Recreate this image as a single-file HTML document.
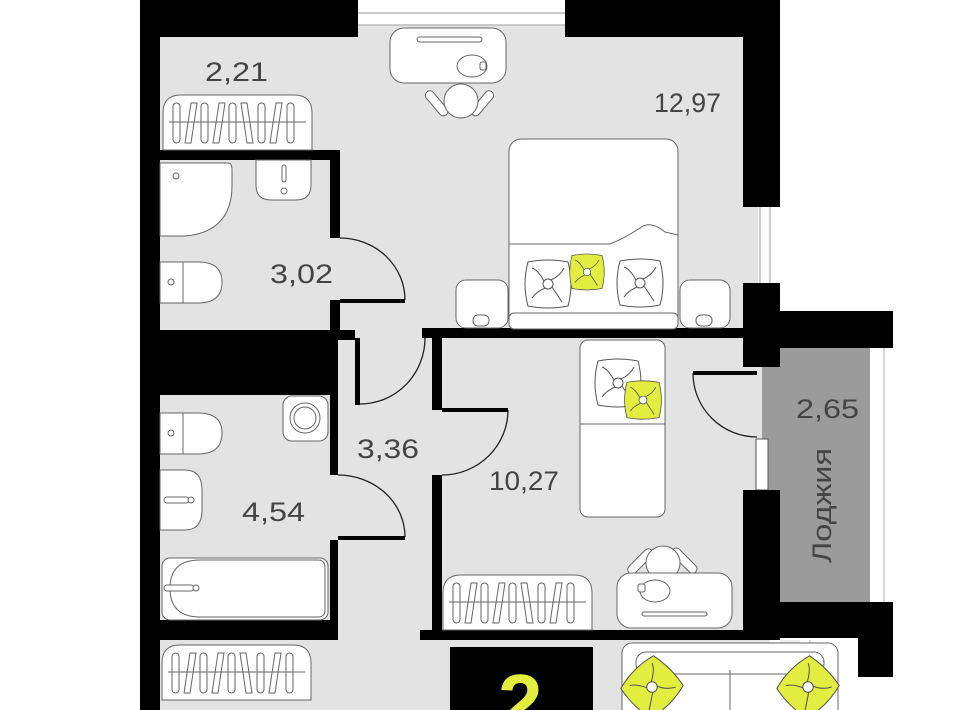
<!DOCTYPE html>
<html><head><meta charset="utf-8"><style>
html,body{margin:0;padding:0;background:#fff;width:960px;height:710px;overflow:hidden;}
svg{display:block;}
text{font-family:"Liberation Sans",sans-serif;fill:#444;}
</style></head><body>
<svg width="960" height="710" viewBox="0 0 960 710" xmlns="http://www.w3.org/2000/svg" overflow="hidden">
<defs>
<clipPath id="c"><rect x="0" y="0" width="960" height="710"/></clipPath>
<g id="rad">
<path d="M0,55 L0,18 Q0,0 18,0 L131,0 Q149,0 149,18 L149,55 Z" fill="#fff" stroke="#666" stroke-width="1"/>
<line x1="6" y1="27" x2="143" y2="27" stroke="#666" stroke-width="1"/>
<g fill="none" stroke="#666" stroke-width="1">
<rect x="10" y="8" width="7" height="40" rx="3.5"/>
<path d="M22,48 L28,8 L34,8 L28,48 Z" stroke-linejoin="round"/>
<rect x="38" y="8" width="7" height="40" rx="3.5"/>
<path d="M50,48 L56,8 L62,8 L56,48 Z"/>
<rect x="66" y="8" width="7" height="40" rx="3.5"/>
<path d="M78,8 L84,48 L90,48 L84,8 Z"/>
<rect x="95" y="8" width="7" height="40" rx="3.5"/>
<path d="M107,48 L113,8 L119,8 L113,48 Z"/>
<rect x="124" y="8" width="7" height="40" rx="3.5"/>
</g>
</g>
<g id="pil">
<path d="M-20,-22 Q0,-26 20,-22 Q26,0 20,22 Q0,26 -20,22 Q-26,0 -20,-22 Z" stroke="#555" stroke-width="1"/>
<circle r="5" fill="#fff" stroke="#555"/>
<path d="M-4,-3 Q-10,-14 -16,-16 M3,-4 Q12,-8 16,-16 M4,3 Q10,12 14,18 M-3,4 Q-12,8 -16,14" fill="none" stroke="#555"/>
</g>
</defs>
<g clip-path="url(#c)">
<rect x="160" y="25" width="600" height="310" fill="#e3e3e3"/>
<rect x="160" y="330" width="610" height="380" fill="#e3e3e3"/>
<rect x="762" y="348" width="108" height="254" fill="#9b9b9b"/>
<rect x="780" y="640" width="20" height="70" fill="#ececec"/>
<line x1="358" y1="13" x2="565" y2="13" stroke="#bbb" stroke-width="1.5"/>
<line x1="358" y1="25" x2="565" y2="25" stroke="#bbb" stroke-width="1.5"/>
<rect x="758" y="207" width="22" height="76" fill="#fff"/>
<line x1="760" y1="207" x2="760" y2="283" stroke="#bbb" stroke-width="1.5"/>
<line x1="770" y1="207" x2="770" y2="283" stroke="#bbb" stroke-width="1.5"/>
<line x1="884" y1="347" x2="884" y2="602" stroke="#ccc" stroke-width="1.5"/>
<line x1="810" y1="640" x2="810" y2="710" stroke="#ccc" stroke-width="1.5"/>
<rect x="756" y="439" width="12" height="51" fill="#fff" stroke="#555" stroke-width="1"/>
<g fill="#000">
<rect x="140" y="0" width="20" height="710"/>
<rect x="140" y="0" width="218" height="37"/>
<rect x="565" y="0" width="215" height="37"/>
<rect x="743" y="0" width="37" height="207"/>
<rect x="743" y="283" width="37" height="84"/>
<rect x="780" y="311" width="113" height="37"/>
<rect x="160" y="150" width="178" height="10"/>
<rect x="330" y="150" width="10" height="88"/>
<rect x="330" y="300" width="10" height="40"/>
<rect x="140" y="330" width="215" height="10"/>
<rect x="140" y="330" width="198" height="65"/>
<rect x="355" y="338" width="5" height="67"/>
<rect x="422" y="328" width="338" height="10"/>
<rect x="432" y="328" width="10" height="82"/>
<rect x="432" y="475" width="10" height="165"/>
<rect x="330" y="395" width="8" height="80"/>
<rect x="330" y="540" width="8" height="100"/>
<rect x="160" y="620" width="178" height="20"/>
<rect x="420" y="630" width="360" height="10"/>
<rect x="743" y="490" width="37" height="150"/>
<rect x="780" y="602" width="113" height="36"/>
<rect x="858" y="602" width="35" height="75"/>
<rect x="450" y="647" width="143" height="63"/>
<rect x="693" y="371" width="64" height="4"/>
</g>
<g fill="none" stroke="#222" stroke-width="1.3">
<path d="M340,238 A65,62 0 0 1 405,300"/>
<path d="M360,404 A65,66 0 0 0 425,338"/>
<path d="M338,475 A67,62 0 0 1 405,537"/>
<path d="M508,410 A66,65 0 0 1 442,475"/>
<path d="M693,373 A64,64 0 0 0 757,437"/>
</g>
<g fill="#000">
<rect x="340" y="299" width="65" height="4"/>
<rect x="338" y="536" width="67" height="4"/>
<rect x="442" y="408" width="66" height="4"/>
</g>
<use href="#rad" x="163" y="95"/>
<use href="#rad" x="443" y="575"/>
<use href="#rad" x="162" y="645"/>
<g fill="#fff" stroke="#666" stroke-width="1">
<rect x="432" y="88" width="9" height="30" rx="4.5" transform="rotate(-40 437 103)"/>
<rect x="478" y="88" width="9" height="30" rx="4.5" transform="rotate(40 482 103)"/>
<circle cx="461" cy="101" r="17"/>
<rect x="390" y="28" width="116" height="55" rx="14"/>
<rect x="417" y="37" width="65" height="5" rx="2.5"/>
<ellipse cx="472" cy="66" rx="15" ry="11"/>
<rect x="480" y="62" width="6" height="8" rx="2"/>
</g>
<g fill="#fff" stroke="#666" stroke-width="1">
<rect x="456" y="280" width="52" height="48" rx="10"/>
<rect x="680" y="280" width="50" height="48" rx="10"/>
<rect x="473" y="315" width="16" height="11" rx="5"/>
<rect x="696" y="315" width="16" height="11" rx="5"/>
<rect x="509" y="139" width="169" height="190" rx="12"/>
<path d="M509,244 L610,244 Q625,238 640,228 Q650,220 665,232 L678,235" fill="none"/>
<rect x="509" y="313" width="169" height="16" rx="5"/>
</g>
<use href="#pil" x="548" y="284" fill="#fff"/>
<use href="#pil" x="640" y="283" fill="#fff"/>
<g transform="translate(587,272) scale(0.75)"><use href="#pil" fill="#e2ee3f"/></g>
<g fill="#fff" stroke="#666" stroke-width="1">
<path d="M160,163 L228,163 Q232,163 232,170 L232,185 Q232,232 185,236 L160,236 Z"/>
<circle cx="176" cy="176" r="3"/>
<path d="M256,160 L311,160 L311,185 Q311,200 296,200 L271,200 Q256,200 256,185 Z"/>
<rect x="282" y="165" width="4" height="17" rx="2"/>
<circle cx="284" cy="191" r="3"/>
<path d="M160,262 L198,262 Q222,262 222,282 Q222,303 198,303 L160,303 Z"/>
<line x1="183" y1="262" x2="183" y2="303"/>
<circle cx="171" cy="282" r="3"/>
</g>
<g fill="#fff" stroke="#666" stroke-width="1">
<rect x="283" y="396" width="45" height="45" rx="9"/>
<circle cx="305" cy="418" r="15"/><circle cx="305" cy="418" r="11"/>
<path d="M160,413 L198,413 Q222,413 222,433 Q222,454 198,454 L160,454 Z"/>
<line x1="183" y1="413" x2="183" y2="454"/>
<circle cx="171" cy="433" r="3"/>
<path d="M160,470 L185,470 Q202,470 202,490 L202,510 Q202,530 185,530 L160,530 Z"/>
<rect x="164" y="497" width="25" height="6" rx="3"/>
<circle cx="191" cy="500" r="3"/>
<rect x="162" y="558" width="166" height="62" rx="8"/>
<path d="M200,560 L318,560 Q325,560 325,568 L325,610 Q325,617 318,617 L200,617 Q170,617 170,588 Q170,560 200,560 Z"/>
<rect x="164" y="585" width="30" height="6" rx="3"/>
<circle cx="196" cy="588" r="3"/>
</g>
<g fill="#fff" stroke="#666" stroke-width="1">
<rect x="580" y="340" width="85" height="177" rx="8"/>
<line x1="580" y1="424" x2="665" y2="424"/>
<rect x="636" y="545" width="9" height="32" rx="4.5" transform="rotate(45 640 561)"/>
<rect x="680" y="545" width="9" height="32" rx="4.5" transform="rotate(-45 684 561)"/>
<circle cx="663" cy="563" r="17"/>
<rect x="617" y="573" width="115" height="55" rx="14"/>
<ellipse cx="655" cy="591" rx="15" ry="11"/>
<rect x="638" y="584" width="7" height="8" rx="2"/>
<rect x="642" y="612" width="65" height="4" rx="2"/>
</g>
<use href="#pil" x="618" y="383" fill="#fff"/>
<g transform="translate(643,400) scale(0.8)"><use href="#pil" fill="#e2ee3f"/></g>
<g fill="#fff" stroke="#666" stroke-width="1">
<rect x="622" y="643" width="216" height="80" rx="10"/>
<rect x="636" y="652" width="188" height="22" rx="10"/>
<line x1="730" y1="670" x2="730" y2="710"/>
</g>
<g transform="translate(652,687) rotate(45) scale(1.05)"><use href="#pil" fill="#e2ee3f"/></g>
<g transform="translate(808,687) rotate(45) scale(1.05)"><use href="#pil" fill="#e2ee3f"/></g>
<g font-size="27">
<text x="205" y="81" textLength="63" lengthAdjust="spacingAndGlyphs">2,21</text>
<text x="654" y="112" textLength="67" lengthAdjust="spacingAndGlyphs">12,97</text>
<text x="270" y="283" textLength="63" lengthAdjust="spacingAndGlyphs">3,02</text>
<text x="357" y="458" textLength="62" lengthAdjust="spacingAndGlyphs">3,36</text>
<text x="242" y="521" textLength="63" lengthAdjust="spacingAndGlyphs">4,54</text>
<text x="489" y="490" textLength="70" lengthAdjust="spacingAndGlyphs">10,27</text>
<text x="796" y="418" textLength="63" lengthAdjust="spacingAndGlyphs">2,65</text>
<text transform="translate(831,563) rotate(-90)" textLength="115" lengthAdjust="spacingAndGlyphs">Лоджия</text>
</g>
<text x="498" y="730" font-size="80" font-weight="bold" style="fill:#e2ee3f">2</text>
</g>
</svg>
</body></html>
